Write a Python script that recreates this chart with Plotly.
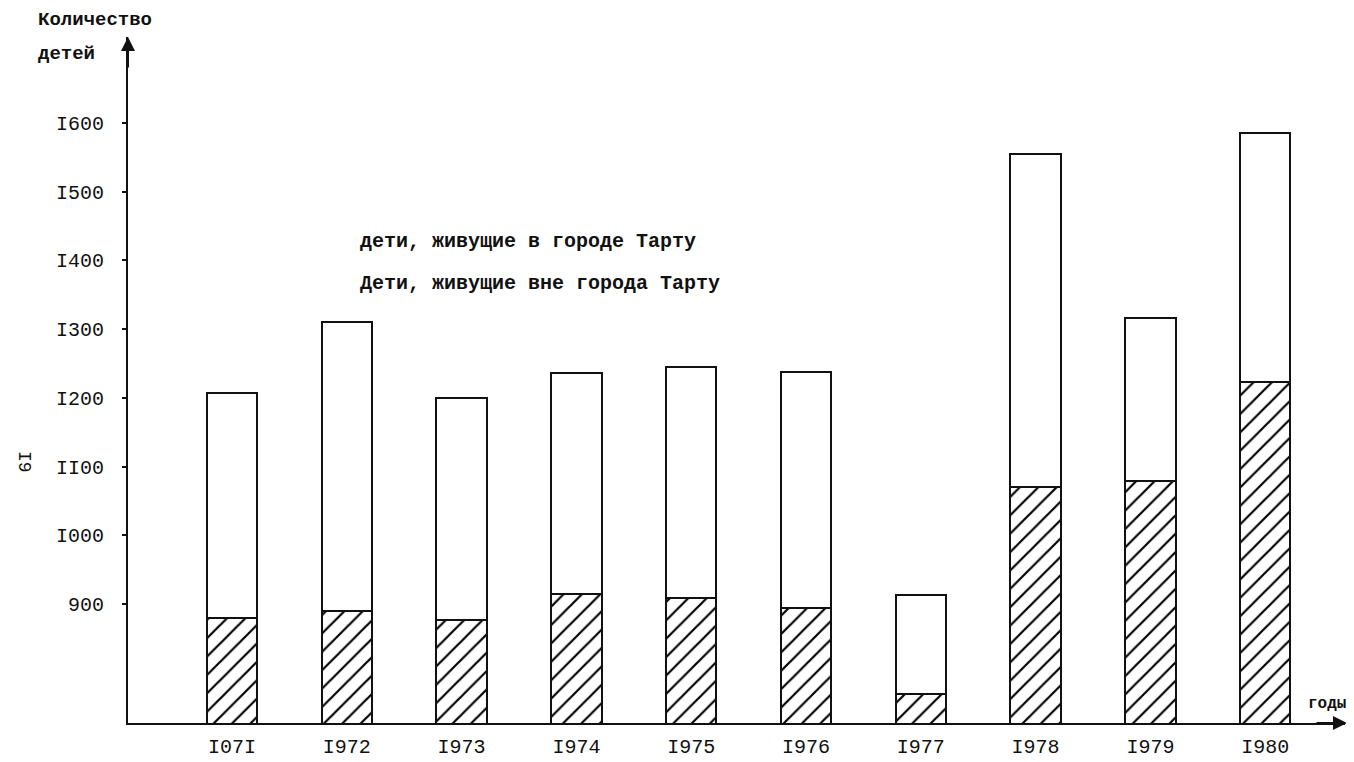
import plotly.graph_objects as go

# ---- data ----
years = ["I07I", "I972", "I973", "I974", "I975", "I976", "I977", "I978", "I979", "I980"]
total_children = [1207, 1310, 1200, 1236, 1245, 1238, 913, 1555, 1316, 1586]
in_city = [880, 890, 877, 915, 909, 894, 769, 1070, 1079, 1223]
ytick_vals = [900, 1000, 1100, 1200, 1300, 1400, 1500, 1600]
ytick_text = ["900", "I000", "II00", "I200", "I300", "I400", "I500", "I600"]

outside_city = [t - c for t, c in zip(total_children, in_city)]

# page has an 8px body margin; figure is sized to fill the rest of the window
OFF = 8
W, H = 1354 - OFF, 762 - OFF
# plot area in page pixels: x 128..1345, y 37..723
PL, PR, PT, PB = 128, 1345, 37, 723
L, R, T, B = PL - OFF, W - (PR - OFF), PT - OFF, H - (PB - OFF)
PW, PH = W - L - R, H - T - B


def px(x):
    return (x - PL) / PW


def py(y):
    return (PB - y) / PH


FONT = "Liberation Mono"
INK = "#111111"

fig = go.Figure()
fig.add_trace(go.Bar(
    x=years, y=in_city, name="дети, живущие в городе Тарту",
    width=0.44,
    marker=dict(color="white", line=dict(color=INK, width=2),
                pattern=dict(shape="/", fgcolor="#000000", bgcolor="white", size=13,
                             solidity=0.17, fgopacity=1)),
))
fig.add_trace(go.Bar(
    x=years, y=outside_city, name="Дети, живущие вне города Тарту",
    width=0.44,
    marker=dict(color="white", line=dict(color=INK, width=2)),
))

fig.update_layout(
    barmode="stack",
    width=W, height=H,
    margin=dict(l=L, r=R, t=T, b=B, pad=0, autoexpand=False),
    paper_bgcolor="white", plot_bgcolor="white",
    showlegend=False,
    font=dict(family=FONT, color=INK, size=20),
    xaxis=dict(type="category", range=[-0.906, 9.695], showline=True, linecolor=INK,
               linewidth=2, showgrid=False, zeroline=False, ticks="", automargin=False,
               tickfont=dict(family=FONT, size=20, color=INK), ticklabelstandoff=4),
    yaxis=dict(range=[726.8, 1725.3], showline=True, linecolor=INK, linewidth=2,
               showgrid=False, zeroline=False, ticks="outside", ticklen=4, tickwidth=2,
               tickcolor=INK, tickvals=ytick_vals, ticktext=ytick_text, automargin=False,
               tickfont=dict(family=FONT, size=20, color=INK), ticklabelstandoff=14),
)

ann = []
# axis arrowheads
ann.append(dict(x=px(1347), y=0, xref="paper", yref="paper", ax=-32, ay=0, showarrow=True,
                arrowhead=2, arrowsize=1.4, arrowwidth=2, arrowcolor=INK, text=""))
ann.append(dict(x=0, y=1, xref="paper", yref="paper", ax=0, ay=32, showarrow=True,
                arrowhead=2, arrowsize=1.4, arrowwidth=2, arrowcolor=INK, text=""))
# axis titles
ann.append(dict(x=px(36), y=py(20), xref="paper", yref="paper", xanchor="left", yanchor="middle",
                text="<b>Количество</b>", showarrow=False, font=dict(family=FONT, size=19, color=INK)))
ann.append(dict(x=px(36), y=py(54), xref="paper", yref="paper", xanchor="left", yanchor="middle",
                text="<b>детей</b>", showarrow=False, font=dict(family=FONT, size=19, color=INK)))
ann.append(dict(x=px(1306), y=py(704), xref="paper", yref="paper", xanchor="left", yanchor="middle",
                text="<b>годы</b>", showarrow=False, font=dict(family=FONT, size=16, color=INK)))
# legend lines (text only, as in the reference)
ann.append(dict(x=px(358), y=py(241), xref="paper", yref="paper", xanchor="left", yanchor="middle",
                text="<b>дети, живущие в городе Тарту</b>", showarrow=False,
                font=dict(family=FONT, size=20, color=INK)))
ann.append(dict(x=px(358), y=py(283), xref="paper", yref="paper", xanchor="left", yanchor="middle",
                text="<b>Дети, живущие вне города Тарту</b>", showarrow=False,
                font=dict(family=FONT, size=20, color=INK)))
# page number
ann.append(dict(x=px(24), y=py(462), xref="paper", yref="paper", xanchor="center", yanchor="middle",
                text="I9", textangle=90, showarrow=False, font=dict(family=FONT, size=18, color=INK)))
fig.update_layout(annotations=ann)

fig.write_html("out.html")
